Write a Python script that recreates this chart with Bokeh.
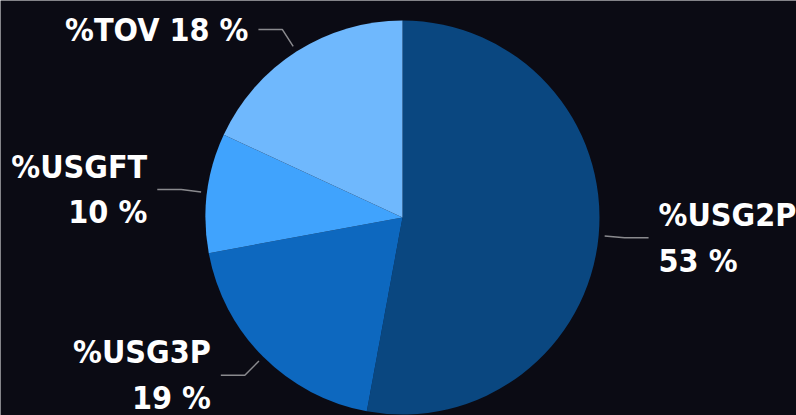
import math, re
from bokeh.plotting import figure
from bokeh.models import Range1d, ColumnDataSource
from bokeh.core.properties import value
from bokeh.embed import file_html
from bokeh.resources import INLINE

# ---- data ----
categories = ["%USG2P", "%USG3P", "%USGFT", "%TOV"]
shares = [52.9, 19.2, 9.8, 18.1]
colors = ["#0a4780", "#0d68bf", "#40a3fd", "#6fb8fd"]
single_line = [False, False, False, True]

BG = "#0b0b14"
W, H = 796, 415
cx, cy = 402, H - 217   # pie centre (page pixels, y measured from bottom)
R = 197

p = figure(width=W, height=H, output_backend="svg", toolbar_location=None,
           x_range=Range1d(0, W), y_range=Range1d(0, H),
           min_border=0, background_fill_color=BG, border_fill_color=BG,
           outline_line_color=None)
p.axis.visible = False
p.grid.visible = False

total = sum(shares)
starts, ends, mids = [], [], []
cum = 0.0
for s in shares:
    a0 = math.pi / 2 - cum / total * 2 * math.pi
    cum += s
    a1 = math.pi / 2 - cum / total * 2 * math.pi
    starts.append(a0)
    ends.append(a1)
    mids.append((a0 + a1) / 2)

src = ColumnDataSource(dict(x=[cx] * 4, y=[cy] * 4, start=starts, end=ends,
                            color=colors, name=categories))
p.wedge(x="x", y="y", radius=R, start_angle="start", end_angle="end",
        direction="clock", fill_color="color", line_color=None, source=src)

lx, ly, tx, ty, texts, aligns = [], [], [], [], [], []
for name, s, m, one in zip(categories, shares, mids, single_line):
    ux, uy = math.cos(m), math.sin(m)
    x1, y1 = cx + (R + 6) * ux, cy + (R + 6) * uy
    x2, y2 = cx + (R + 26) * ux, cy + (R + 26) * uy
    side = 1 if ux > 0 else -1
    x3 = x2 + side * 24
    lx.append([x1, x2, x3])
    ly.append([y1, y2, y2])
    tx.append(x3 + side * 10)
    ty.append(y2)
    pct = f"{round(s / total * 100)} %"
    texts.append(f"{name} {pct}" if one else f"{name}\n{pct}")
    aligns.append("left" if side > 0 else "right")

p.multi_line(xs=lx, ys=ly, line_color="#8a8a8e", line_width=1.5)

tsrc = ColumnDataSource(dict(x=tx, y=ty, text=texts, align=aligns))
p.text(x="x", y="y", text="text", text_align="align", text_baseline="middle",
       text_color="#ffffff",
       text_font=value("'DejaVu Sans Condensed', 'Liberation Sans Narrow', Roboto"),
       text_font_style="bold", text_font_size="32px", text_line_height=1.2,
       source=tsrc)

html = file_html(p, INLINE)
html = re.sub(r"<body([^>]*)>", rf'<body\1 style="background:{BG};margin:0;">', html, count=1)
open("out.html", "w").write(html)
